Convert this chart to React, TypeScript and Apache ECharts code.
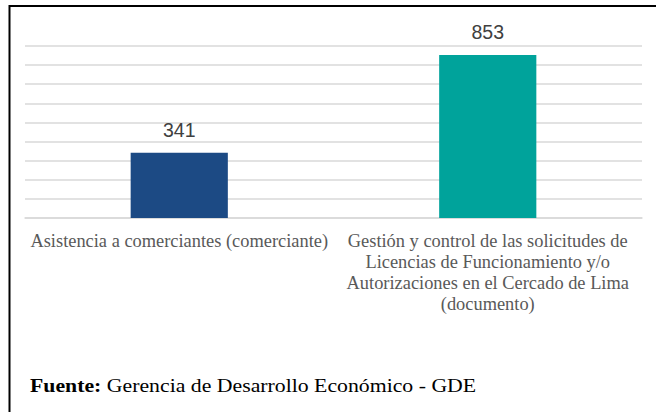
import React, { useEffect, useRef } from "react";
import * as echarts from "echarts";

const categories: string[] = [
  "Asistencia a comerciantes (comerciante)",
  "Gestión y control de las solicitudes de\nLicencias de Funcionamiento y/o\nAutorizaciones en el Cercado de Lima\n(documento)",
];
const values: number[] = [341, 853];
const barColors: string[] = ["#1c4a84", "#00a39b"];
const sourceLabel = "Fuente:";
const sourceText = "Gerencia de Desarrollo Económico - GDE";

export default function App() {
  const ref = useRef<HTMLDivElement>(null);
  useEffect(() => {
    if (!ref.current) return;
    const chart = echarts.init(ref.current, null, { renderer: "svg" });
    chart.setOption({
      animation: false,
      backgroundColor: "#ffffff",
      grid: { left: 25, right: 14, top: 46, bottom: 194, containLabel: false },
      xAxis: {
        type: "category",
        data: categories,
        axisTick: { show: false },
        axisLine: { show: true, lineStyle: { color: "#d9d9d9", width: 1.5 } },
        axisLabel: {
          interval: 0,
          margin: 12,
          color: "#595959",
          fontFamily: "Liberation Serif",
          fontSize: 18.4,
          lineHeight: 21,
          align: "center",
        },
      },
      yAxis: {
        type: "value",
        min: 0,
        max: 900,
        interval: 100,
        axisLabel: { show: false },
        axisLine: { show: false },
        axisTick: { show: false },
        splitLine: { lineStyle: { color: "#d9d9d9", width: 1.5 } },
      },
      series: [
        {
          type: "bar",
          barWidth: "31.5%",
          data: values.map((v, i) => ({ value: v, itemStyle: { color: barColors[i] } })),
          label: {
            show: true,
            position: "top",
            distance: 13,
            color: "#404040",
            fontFamily: "Liberation Sans",
            fontSize: 19.5,
          },
        },
      ],
      graphic: [
        {
          type: "line",
          shape: { x1: 9, y1: 6, x2: 656, y2: 6 },
          style: { stroke: "#000000", lineWidth: 2 },
        },
        {
          type: "line",
          shape: { x1: 9.5, y1: 5, x2: 9.5, y2: 412 },
          style: { stroke: "#000000", lineWidth: 2 },
        },
        {
          type: "text",
          x: 30,
          y: 386,
          scaleX: 1.21,
          style: {
            text: "{b|" + sourceLabel + "} " + sourceText,
            fill: "#000000",
            fontFamily: "Liberation Serif",
            fontSize: 18,
            verticalAlign: "middle",
            align: "left",
            rich: {
              b: { fontWeight: "bold", fontFamily: "Liberation Serif", fontSize: 18, fill: "#000000" },
            },
          },
        },
      ],
    });
    return () => chart.dispose();
  }, []);
  return (
    <div
      ref={ref}
      style={{ position: "fixed", left: 0, top: 0, width: 656, height: 412 }}
    />
  );
}
